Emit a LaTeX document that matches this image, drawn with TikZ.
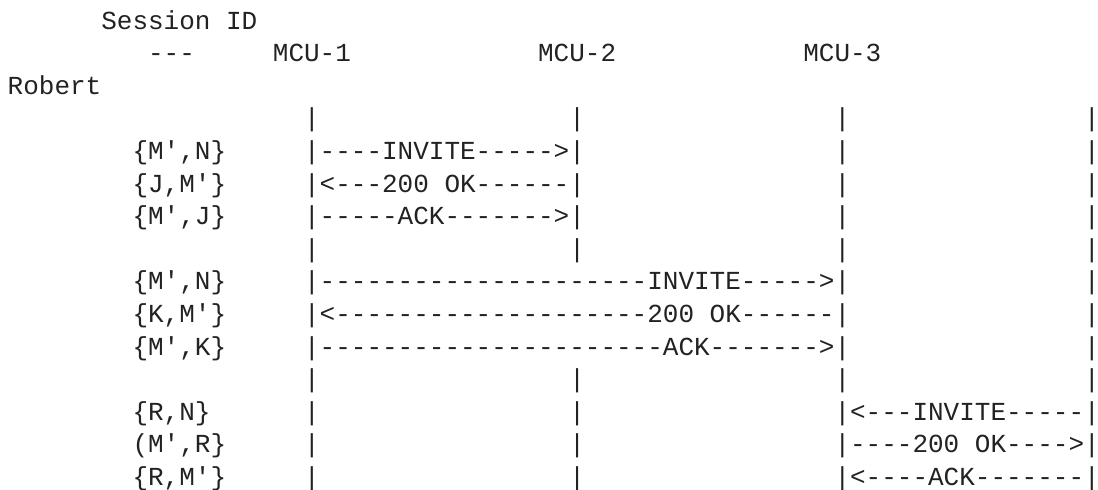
\documentclass[tikz,border=0pt]{standalone}
\usepackage{fontspec}
\setmonofont{Liberation Mono}
\usepackage{tikz}

\definecolor{asciigray}{HTML}{222222}
\tikzset{txt/.style={inner sep=0pt, outer sep=0pt, anchor=base west,
    text=asciigray, font=\ttfamily\fontsize{13pt}{16.3pt}\selectfont}}

\begin{document}
\begin{tikzpicture}[x=7.8pt, y=-16.3pt]
          \useasboundingbox (-3.85pt, 14.5pt) rectangle (545.15pt, -230pt);

          % Header
          \node [txt] (sid) at (6, 0) {Session ID};
          \node [txt] (dash) at (9, 1) {---};
          \node [txt] (mcu1) at (17, 1) {MCU-1};
          \node [txt] (mcu2) at (34, 1) {MCU-2};
          \node [txt] (mcu3) at (51, 1) {MCU-3};
          \node [txt] (robert) at (0, 2) {Robert};

          \node [txt] (pa1) at (19, 3) {|};
          \node [txt] (pa2) at (36, 3) {|};
          \node [txt] (pa3) at (53, 3) {|};
          \node [txt] (pa4) at (69, 3) {|};

          % MCU-1 to MCU-2
          \node [txt] (key1) at (8, 4) {\{M',N\}};
          \node [txt] (inv1) at (19, 4) {|----INVITE----->|};
          \node [txt] (pb3) at (53, 4) {|};
          \node [txt] (pb4) at (69, 4) {|};
          \node [txt] (key2) at (8, 5) {\{J,M'\}};
          \node [txt] (ok1) at (19, 5) {|<---200 OK------|};
          \node [txt] (pc3) at (53, 5) {|};
          \node [txt] (pc4) at (69, 5) {|};
          \node [txt] (key3) at (8, 6) {\{M',J\}};
          \node [txt] (ack1) at (19, 6) {|-----ACK------->|};
          \node [txt] (pd3) at (53, 6) {|};
          \node [txt] (pd4) at (69, 6) {|};

          \node [txt] (pe1) at (19, 7) {|};
          \node [txt] (pe2) at (36, 7) {|};
          \node [txt] (pe3) at (53, 7) {|};
          \node [txt] (pe4) at (69, 7) {|};

          % MCU-1 to MCU-3
          \node [txt] (key4) at (8, 8) {\{M',N\}};
          \node [txt] (inv2) at (19, 8) {|---------------------INVITE----->|};
          \node [txt] (pf4) at (69, 8) {|};
          \node [txt] (key5) at (8, 9) {\{K,M'\}};
          \node [txt] (ok2) at (19, 9) {|<--------------------200 OK------|};
          \node [txt] (pg4) at (69, 9) {|};
          \node [txt] (key6) at (8, 10) {\{M',K\}};
          \node [txt] (ack2) at (19, 10) {|----------------------ACK------->|};
          \node [txt] (ph4) at (69, 10) {|};

          \node [txt] (pi1) at (19, 11) {|};
          \node [txt] (pi2) at (36, 11) {|};
          \node [txt] (pi3) at (53, 11) {|};
          \node [txt] (pi4) at (69, 11) {|};

          % Robert to MCU-3
          \node [txt] (key7) at (8, 12) {\{R,N\}};
          \node [txt] (pj1) at (19, 12) {|};
          \node [txt] (pj2) at (36, 12) {|};
          \node [txt] (inv3) at (53, 12) {|<---INVITE-----|};
          \node [txt] (key8) at (8, 13) {(M',R\}};
          \node [txt] (pk1) at (19, 13) {|};
          \node [txt] (pk2) at (36, 13) {|};
          \node [txt] (ok3) at (53, 13) {|----200 OK---->|};
          \node [txt] (key9) at (8, 14) {\{R,M'\}};
          \node [txt] (pl1) at (19, 14) {|};
          \node [txt] (pl2) at (36, 14) {|};
          \node [txt] (ack3) at (53, 14) {|<----ACK-------|};
        \end{tikzpicture}
\end{document}
